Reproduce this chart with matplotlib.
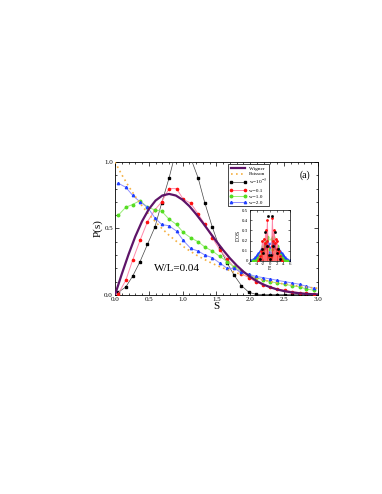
import matplotlib
matplotlib.use('Agg')
import matplotlib.pyplot as plt

plt.rcParams['font.family'] = ['Liberation Serif', 'DejaVu Serif']
plt.rcParams['mathtext.fontset'] = 'stix'

# level spacing distributions, W/L = 0.04
s_grid = [0.05, 0.16, 0.26, 0.37, 0.48, 0.59, 0.69, 0.80, 0.91, 1.01,
          1.12, 1.23, 1.33, 1.44, 1.55, 1.66, 1.76, 1.87, 1.98, 2.08,
          2.19, 2.30, 2.40, 2.51, 2.62, 2.73, 2.83, 2.94]
p_w1e3 = [0.02, 0.06, 0.14, 0.25, 0.38, 0.51, 0.69, 0.88, 1.10, 1.18,
          1.03, 0.88, 0.69, 0.51, 0.35, 0.24, 0.15, 0.07, 0.02, 0.005,
          0.002, 0.002, 0.002, 0.002, 0.002, 0.002, 0.002, 0.002]
p_w01 = [0.01, 0.11, 0.26, 0.41, 0.55, 0.64, 0.70, 0.80, 0.80, 0.72,
         0.69, 0.61, 0.53, 0.43, 0.34, 0.27, 0.21, 0.16, 0.13, 0.10,
         0.075, 0.06, 0.045, 0.035, 0.025, 0.018, 0.012, 0.008]
p_w10 = [0.60, 0.66, 0.68, 0.71, 0.66, 0.64, 0.63, 0.57, 0.53, 0.47,
         0.43, 0.40, 0.36, 0.33, 0.29, 0.25, 0.21, 0.18, 0.15, 0.13,
         0.115, 0.10, 0.09, 0.08, 0.07, 0.06, 0.045, 0.035]
p_w20 = [0.84, 0.81, 0.75, 0.70, 0.66, 0.58, 0.53, 0.52, 0.48, 0.41,
         0.35, 0.33, 0.30, 0.28, 0.24, 0.20, 0.20, 0.17, 0.155, 0.14,
         0.13, 0.12, 0.11, 0.10, 0.09, 0.08, 0.065, 0.05]

s_ref = [0.0, 0.1, 0.2, 0.3, 0.4, 0.5, 0.6, 0.7, 0.8, 0.9, 1.0,
         1.1, 1.2, 1.3, 1.4, 1.5, 1.6, 1.7, 1.8, 1.9, 2.0,
         2.1, 2.2, 2.3, 2.4, 2.5, 2.6, 2.7, 2.8, 2.9, 3.0]
p_wigner = [0.0, 0.156, 0.304, 0.439, 0.554, 0.645, 0.710, 0.748, 0.760, 0.748, 0.716,
            0.668, 0.608, 0.542, 0.472, 0.403, 0.337, 0.276, 0.222, 0.175, 0.136,
            0.103, 0.077, 0.057, 0.041, 0.029, 0.020, 0.014, 0.009, 0.006, 0.004]
p_poisson = [1.0, 0.905, 0.819, 0.741, 0.670, 0.607, 0.549, 0.497, 0.449, 0.407, 0.368,
             0.333, 0.301, 0.273, 0.247, 0.223, 0.202, 0.183, 0.165, 0.150, 0.135,
             0.122, 0.111, 0.100, 0.091, 0.082, 0.074, 0.067, 0.061, 0.055, 0.050]

# inset: density of states
e_blue = [-6, -5.5, -5, -4.5, -4, -3.5, -3, -2.5, -2, -1.5, -1, -0.75, -0.5, -0.25, 0,
          0.25, 0.5, 0.75, 1, 1.5, 2, 2.5, 3, 3.5, 4, 4.5, 5, 5.5, 6]
dos_blue = [0, 0, 0.01, 0.03, 0.05, 0.07, 0.09, 0.12, 0.14, 0.16, 0.18, 0.19, 0.15, 0.08, 0.05,
            0.08, 0.15, 0.19, 0.18, 0.16, 0.14, 0.12, 0.09, 0.07, 0.05, 0.03, 0.01, 0, 0]
e_green = [-5, -4.5, -4, -3.5, -3, -2.5, -2, -1.5, -1, -0.75, -0.5, -0.25, 0,
           0.25, 0.5, 0.75, 1, 1.5, 2, 2.5, 3, 3.5, 4, 4.5, 5]
dos_green = [0, 0, 0.01, 0.03, 0.06, 0.10, 0.15, 0.20, 0.24, 0.22, 0.12, 0.05, 0.03,
             0.05, 0.12, 0.22, 0.24, 0.20, 0.15, 0.10, 0.06, 0.03, 0.01, 0, 0]
e_red = [-3.5, -3.25, -3, -2.75, -2.5, -2.25, -2, -1.75, -1.5, -1.25, -1, -0.75, -0.5, -0.25, 0,
         0.25, 0.5, 0.75, 1, 1.25, 1.5, 1.75, 2, 2.25, 2.5, 2.75, 3, 3.25, 3.5]
dos_red = [0, 0.02, 0.05, 0.10, 0.08, 0.20, 0.12, 0.22, 0.18, 0.30, 0.20, 0.40, 0.15, 0.05, 0.02,
           0.05, 0.15, 0.42, 0.20, 0.30, 0.18, 0.22, 0.12, 0.20, 0.08, 0.10, 0.05, 0.02, 0]
e_black = [-3, -2.5, -2, -1.5, -1, -0.6, -0.3, 0, 0.3, 0.6, 1, 1.5, 2, 2.5, 3]
dos_black = [0.02, 0.12, 0.08, 0.28, 0.15, 0.44, 0.06, 0.02, 0.06, 0.44, 0.15, 0.28, 0.08, 0.12, 0.02]

fig = plt.figure(figsize=(3.82, 4.94), dpi=100)
ax = fig.add_axes([0.301, 0.403, 0.531, 0.269])

ax.plot(s_ref, p_wigner, color='#5e1468', lw=1.6, label='Wigner', zorder=5)
ax.plot(s_ref, p_poisson, color='#f5b041', lw=1.2, ls=(0, (1, 2)), label='Poisson', zorder=4)
ax.plot(s_grid, p_w1e3, color='#444444', lw=0.5, marker='s', ms=1.5, mfc='black', mec='black',
        label='w=10$^{-3}$', zorder=3)
ax.plot(s_grid, p_w01, color='#ff88aa', lw=0.7, marker='o', ms=1.6, mfc='#ff1010', mec='#ff1010',
        label='w=0.1', zorder=3)
ax.plot(s_grid, p_w10, color='#99ee77', lw=0.7, marker='o', ms=1.8, mfc='#55dd22', mec='#55dd22',
        label='w=1.0', zorder=3)
ax.plot(s_grid, p_w20, color='#8f8fff', lw=0.7, marker='^', ms=1.7, mfc='#2040ff', mec='#2040ff',
        label='w=2.0', zorder=3)

ax.set_xlim(0, 3.0)
ax.set_ylim(0, 1.0)
ax.set_xticks([0, 0.5, 1.0, 1.5, 2.0, 2.5, 3.0])
ax.set_yticks([0, 0.5, 1.0])
ax.set_xticks([0.1 * i for i in range(31)], minor=True)
ax.set_yticks([0.1 * i for i in range(11)], minor=True)
ax.xaxis.set_major_formatter(matplotlib.ticker.FormatStrFormatter('%.1f'))
ax.yaxis.set_major_formatter(matplotlib.ticker.FormatStrFormatter('%.1f'))
ax.tick_params(which='both', direction='in', top=True, right=True, labelsize=5, width=0.5, pad=1.5)
ax.tick_params(which='major', length=3)
ax.tick_params(which='minor', length=1.5)
for sp in ax.spines.values():
    sp.set_linewidth(0.6)
ax.set_xlabel('S', fontsize=8, labelpad=0)
ax.set_ylabel('P(s)', fontsize=8, labelpad=1)

ax.text(0.92, 0.2, 'W/L=0.04', fontsize=8, ha='center', va='center')
ax.text(2.81, 0.9, '(a)', fontsize=7, ha='center', va='center')

leg = ax.legend(loc='upper left', bbox_to_anchor=(0.555, 0.985), fontsize=3.8, numpoints=2,
                handlelength=3.2, handletextpad=0.5, borderpad=0.35, labelspacing=0.22,
                borderaxespad=0, frameon=True, fancybox=False, edgecolor='black', framealpha=1)
leg.get_frame().set_linewidth(0.5)

axin = fig.add_axes([0.654, 0.4717, 0.105, 0.103])
axin.plot(e_blue, dos_blue, color='#8f8fff', lw=1.0, marker='^', ms=2.6, mfc='#2040ff', mec='#2040ff', zorder=2)
axin.plot(e_green, dos_green, color='#99ee77', lw=0.6, marker='o', ms=1.8, mfc='#55dd22', mec='#55dd22', zorder=3)
axin.vlines(e_red, 0, dos_red, color='#ff3030', lw=0.5, zorder=4)
axin.plot(e_red, dos_red, color='#ff88aa', lw=0.6, marker='o', ms=1.0, mfc='#ff1010', mec='#ff1010', zorder=4)
axin.plot(e_black, dos_black, ls='none', marker='s', ms=0.9, mfc='black', mec='black', zorder=5)
axin.set_xlim(-6, 6)
axin.set_ylim(0, 0.5)
axin.set_xticks([-6, -4, -2, 0, 2, 4, 6])
axin.set_xticklabels(['-6', '-4', '-2', '0', '2', '4', '6'])
axin.set_yticks([0, 0.1, 0.2, 0.3, 0.4, 0.5])
axin.set_yticklabels(['0', '0.1', '0.2', '0.3', '0.4', '0.5'])
axin.tick_params(direction='in', top=True, right=True, labelsize=3.5, width=0.4, length=1.5, pad=1)
for sp in axin.spines.values():
    sp.set_linewidth(0.5)
axin.set_xlabel('E', fontsize=4, labelpad=0)
axin.set_ylabel('DOS', fontsize=4, labelpad=1)

fig.savefig('out.png', dpi=100)
